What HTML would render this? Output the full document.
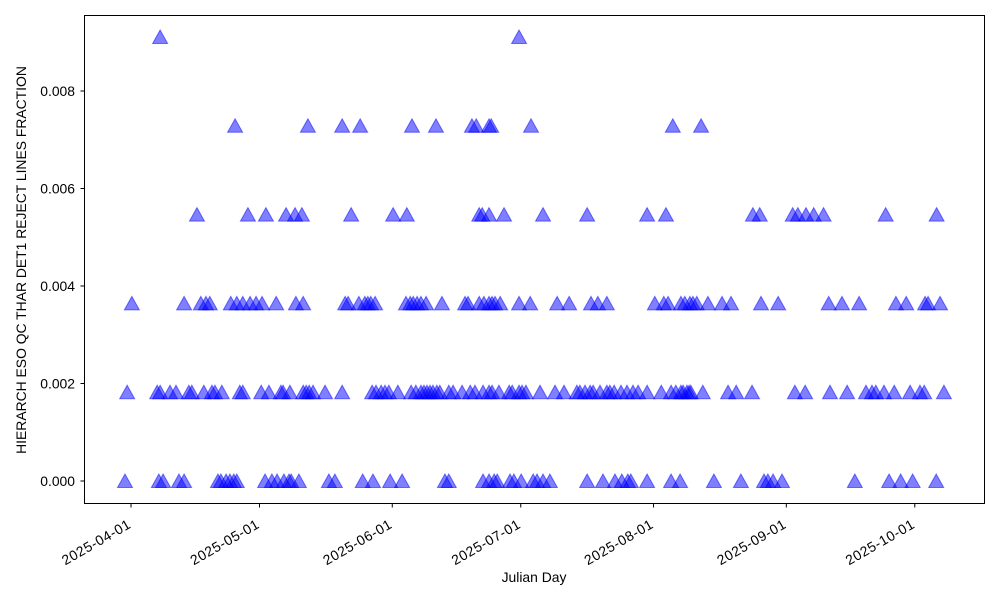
<!DOCTYPE html>
<html><head><meta charset="utf-8"><style>
body{margin:0;background:#fff}
svg{font-family:"Liberation Sans",sans-serif}
</style></head><body>
<svg id="chart" width="1000" height="600">
<rect x="0" y="0" width="1000" height="600" fill="#fff"/>
<g id="marks"></g>
<g id="axes"></g>
<rect x="84.5" y="15.5" width="900" height="488" fill="none" stroke="#000" stroke-width="1"/>
<text x="534" y="582" text-anchor="middle" font-size="13.9">Julian Day</text>
<text transform="translate(26,260) rotate(-90)" text-anchor="middle" font-size="13.9">HIERARCH ESO QC THAR DET1 REJECT LINES FRACTION</text>
</svg>
<script>
// days since 2025-04-01 for each value level
const days0=[-1.4,6.5,7.5,11.2,12.4,20.3,21,22.2,23.1,24,24.7,31.3,32.9,34.1,35.7,36.9,37.4,39.2,46.2,47.6,54.1,56.5,60.5,63.3,73.3,74.2,82.2,83.6,84.8,85.5,88.5,89.4,91.1,93.9,94.8,96.2,97.8,106.5,110.2,113,114.6,116,116.7,120.5,126.1,128.2,136.1,142.4,147.8,148.7,149.9,152,169,177,179.7,182.5,188];
const days1=[-0.9,6.1,6.8,9.1,10.5,13.5,14.2,17,18.9,19.6,21.2,25.4,26.1,30.4,32.2,35,35.5,37.1,40.2,40.9,41.6,42.5,45.3,49.3,56.3,57.2,58.4,59.3,60.2,62.3,65.4,66.5,67.7,68.4,69.1,69.8,70.5,71.4,72.1,74.2,75.2,77.3,79.2,80.3,82.2,83.6,84.3,85.9,88.3,89,90.6,91.3,92.2,95.5,99,101.1,104.1,104.8,106,107.2,107.9,109.5,111.1,111.8,112.8,114.4,115.8,117.2,118.4,120.5,123.8,126.1,127.2,128.4,128.9,129.8,130.3,130.7,133.5,139.4,141.3,145,155,157.4,163.2,167.2,171.6,173,173.9,175.8,178.2,181.9,184.2,185.2,189.8];
const days2=[0.2,12.4,16.3,17.5,18.4,23.3,24.7,26.1,27.8,29.2,30.6,33.9,38.5,40.2,50,50.7,53.2,54.6,55.3,56,57,64.2,65.2,65.9,66.8,67.7,68.9,72.6,78,78.7,81.3,82.4,83.6,84.3,85,86.2,90.6,93.2,99.5,102.3,107.4,109,111.1,122.3,124.4,125.4,128.4,129.3,130.5,131.2,132.1,134.7,138,140.1,147.1,151.1,162.9,166,170,178.6,181,185.4,186.1,188.9];
const days3=[15.4,27.3,31.5,36.2,38.3,39.9,51.4,61.2,64.4,81.3,82,83.6,87.1,96.2,106.5,120.5,124.9,145.2,146.8,154.5,155.7,157.6,159.4,161.7,176.2,188.1];
const days4=[24.3,41.3,49.3,53.5,65.6,71.2,79.6,80.6,83.6,84.1,93.4,126.5,133.1];
const days5=[6.8,90.6];
const levelValues=[0,0.0018215,0.003643,0.0054645,0.007286,0.0091075];
const xTickDays=[0,30,61,91,122,153,183];
const xTickLabels=["2025-04-01","2025-05-01","2025-06-01","2025-07-01","2025-08-01","2025-09-01","2025-10-01"];
const yTicks=[0,0.002,0.004,0.006,0.008];
const yTickLabels=["0.000","0.002","0.004","0.006","0.008"];

const NS="http://www.w3.org/2000/svg";
const xs=d=>131+d*4.283;
const ys=v=>481-v*48750;
const marks=document.getElementById('marks');
const axes=document.getElementById('axes');
[days0,days1,days2,days3,days4,days5].forEach((arr,k)=>{
  arr.forEach(d=>{
    const x=xs(d),y=ys(levelValues[k]);
    const p=document.createElementNS(NS,'polygon');
    p.setAttribute('points',`${x},${y-7} ${x-7.5},${y+6.5} ${x+7.5},${y+6.5}`);
    p.setAttribute('fill','rgba(0,0,255,0.5)');
    p.setAttribute('stroke','rgba(0,0,255,0.5)');
    p.setAttribute('stroke-width','1');
    
    
    marks.appendChild(p);
  });
});
xTickDays.forEach((d,i)=>{
  const x=xs(d);
  const l=document.createElementNS(NS,'line');
  l.setAttribute('x1',x);l.setAttribute('x2',x);l.setAttribute('y1',503.5);l.setAttribute('y2',507.5);
  l.setAttribute('stroke','#000');
  
  
  axes.appendChild(l);
  const t=document.createElementNS(NS,'text');
  t.setAttribute('transform',`translate(${x+1},${527}) rotate(-30)`);
  t.setAttribute('text-anchor','end');
  t.setAttribute('font-size','13.9');
  t.setAttribute('letter-spacing','0.6');
  t.textContent=xTickLabels[i];
  
  
  axes.appendChild(t);
});
yTicks.forEach((v,i)=>{
  const y=ys(v);
  const l=document.createElementNS(NS,'line');
  l.setAttribute('x1',80.5);l.setAttribute('x2',84.5);l.setAttribute('y1',y);l.setAttribute('y2',y);
  l.setAttribute('stroke','#000');
  
  
  axes.appendChild(l);
  const t=document.createElementNS(NS,'text');
  t.setAttribute('x',75);t.setAttribute('y',y+5);
  t.setAttribute('text-anchor','end');
  t.setAttribute('font-size','13.9');
  t.textContent=yTickLabels[i];
  
  
  axes.appendChild(t);
});
</script>
</body></html>
